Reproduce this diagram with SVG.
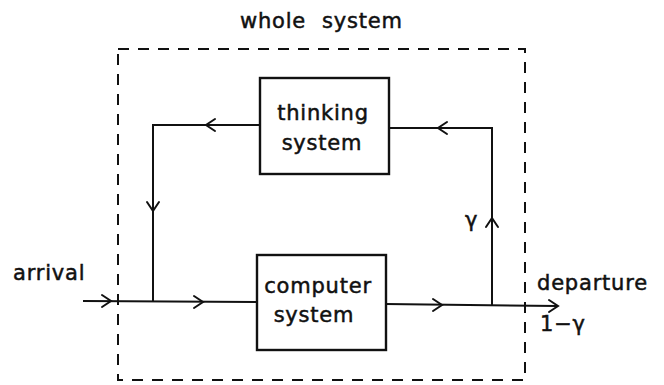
<svg xmlns="http://www.w3.org/2000/svg" width="664" height="385" viewBox="0 0 664 385">
  <style>
    .bg { fill: #ffffff; }
    .line { fill: none; stroke: #111; stroke-width: 2; stroke-linecap: square; }
    .box { fill: #ffffff; stroke: #111; stroke-width: 2.4; }
    .frame { fill: none; stroke: #111; stroke-width: 2; stroke-dasharray: 11 9; }
    .chev { fill: none; stroke: #111; stroke-width: 2; stroke-linejoin: miter; stroke-linecap: round; }
    text { font-family: "DejaVu Sans", "Liberation Sans", sans-serif; font-size: 21px; fill: #111; stroke: #111; stroke-width: 0.5; letter-spacing: 0.8px; }
    .mid { text-anchor: middle; }
  </style>
  <defs>
    <!-- open arrowhead, tip at origin, pointing along +x -->
    <path id="chev" class="chev" d="M-9,-6 L0,0 L-9,6"/>
  </defs>
  <rect class="bg" x="0" y="0" width="664" height="385"/>

  <g id="whole-system">
    <rect class="frame" x="118" y="49" width="407" height="331"/>
    <text x="240" y="28">whole</text>
    <text x="322" y="28">system</text>
  </g>

  <g id="connectors">
    <!-- main flow: arrival -> computer system -> departure -->
    <path class="line" d="M84,301 L257,302"/>
    <path class="line" d="M386,304 L556,306"/>
    <!-- feedback: computer output -> thinking system -> back to input -->
    <path class="line" d="M492,305 V128 H389"/>
    <path class="line" d="M260,125 H153 V301"/>
    <use href="#chev" transform="translate(111,301)"/>
    <use href="#chev" transform="translate(203,302)"/>
    <use href="#chev" transform="translate(442,305)"/>
    <use href="#chev" transform="translate(558,306)"/>
    <use href="#chev" transform="translate(492,218) rotate(-90)"/>
    <use href="#chev" transform="translate(438,128) rotate(180)"/>
    <use href="#chev" transform="translate(206,125) rotate(180)"/>
    <use href="#chev" transform="translate(153,211) rotate(90)"/>
  </g>

  <g id="thinking-system">
    <rect class="box" x="260" y="78" width="129" height="96"/>
    <text class="mid" x="323" y="120">thinking</text>
    <text class="mid" x="322" y="150">system</text>
  </g>

  <g id="computer-system">
    <rect class="box" x="257" y="255" width="129" height="95"/>
    <text class="mid" x="318" y="293">computer</text>
    <text class="mid" x="314" y="322">system</text>
  </g>

  <g id="labels">
    <text x="13" y="280">arrival</text>
    <text x="537" y="290">departure</text>
    <text x="540" y="331">1−γ</text>
    <text x="465" y="227">γ</text>
  </g>
</svg>
